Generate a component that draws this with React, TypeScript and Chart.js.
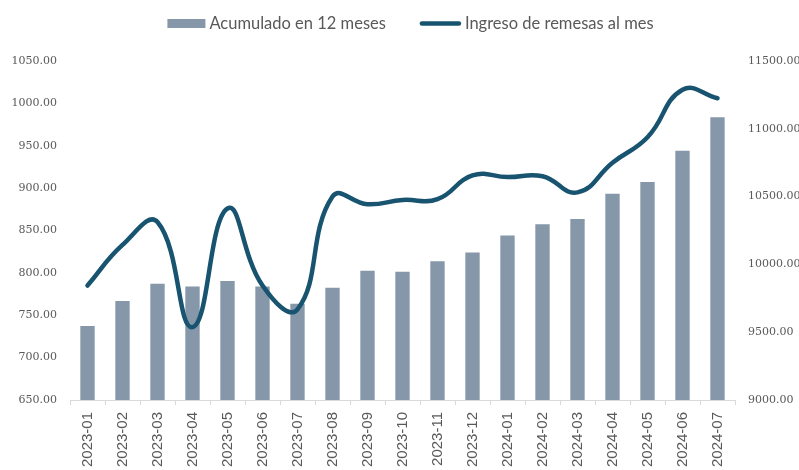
import React, { useEffect, useRef } from "react";
import { Chart, registerables } from "chart.js";

Chart.register(...registerables);

const categories = [
  "2023-01", "2023-02", "2023-03", "2023-04", "2023-05", "2023-06", "2023-07",
  "2023-08", "2023-09", "2023-10", "2023-11", "2023-12", "2024-01", "2024-02",
  "2024-03", "2024-04", "2024-05", "2024-06", "2024-07",
];

const acumulado12 = [
  9546, 9731, 9857, 9837, 9877, 9837, 9709, 9827, 9953, 9945, 10024, 10088,
  10213, 10297, 10334, 10521, 10608, 10839, 11085,
];

const ingresoMensual = [
  785, 833, 860, 736, 876, 785, 757, 890, 881, 886, 887, 915, 913, 914, 895,
  930, 960, 1016, 1006,
];

const barLabel = "Acumulado en 12 meses";
const lineLabel = "Ingreso de remesas al mes";

const BAR_COLOR = "#8597A9";
const LINE_COLOR = "#18546F";
const TEXT_COLOR = "#595959";
const AXIS_COLOR = "#D9D9D9";

const legendPlugin = {
  id: "customLegend",
  afterDraw(chart: any) {
    const ctx = chart.ctx;
    ctx.save();
    ctx.font = "16.5px Lato";
    ctx.textBaseline = "middle";
    ctx.fillStyle = TEXT_COLOR;
    const w1 = ctx.measureText(barLabel).width;
    const w2 = ctx.measureText(lineLabel).width;
    const box = 38;
    const lineW = 41;
    const gap = 4;
    const between = 34;
    const total = box + gap + w1 + between + lineW + gap + w2;
    const cx = 410.5;
    let x = cx - total / 2;
    const cy = 23.5;
    ctx.fillStyle = BAR_COLOR;
    ctx.fillRect(x, cy - 4.5, box, 9);
    x += box + gap;
    ctx.fillStyle = TEXT_COLOR;
    ctx.textAlign = "left";
    ctx.fillText(barLabel, x, cy);
    x += w1 + between;
    ctx.strokeStyle = LINE_COLOR;
    ctx.lineWidth = 4.5;
    ctx.lineCap = "round";
    ctx.beginPath();
    ctx.moveTo(x + 2, cy);
    ctx.lineTo(x + lineW - 2, cy);
    ctx.stroke();
    x += lineW + gap;
    ctx.fillStyle = TEXT_COLOR;
    ctx.fillText(lineLabel, x, cy);
    ctx.restore();
  },
};

export default function App() {
  const ref = useRef<HTMLCanvasElement | null>(null);
  useEffect(() => {
    if (!ref.current) return;
    const chart = new Chart(ref.current, {
      data: {
        labels: categories,
        datasets: [
          {
            type: "line",
            label: lineLabel,
            data: ingresoMensual,
            yAxisID: "yLeft",
            borderColor: LINE_COLOR,
            backgroundColor: LINE_COLOR,
            borderWidth: 4.5,
            pointRadius: 0,
            tension: 0.45,
            borderCapStyle: "round",
            order: 0,
          },
          {
            type: "bar",
            label: barLabel,
            data: acumulado12,
            yAxisID: "yRight",
            backgroundColor: BAR_COLOR,
            barPercentage: 0.41,
            categoryPercentage: 1,
            order: 1,
          },
        ],
      } as any,
      options: {
        responsive: false,
        animation: false,
        maintainAspectRatio: false,
        layout: { padding: { top: 61, bottom: 0, left: 0, right: 0 } },
        plugins: { legend: { display: false }, tooltip: { enabled: false } },
        scales: {
          x: {
            offset: true,
            grid: {
              display: true,
              drawOnChartArea: false,
              drawTicks: true,
              tickLength: 5,
              color: AXIS_COLOR,
              offset: true,
            },
            border: { display: true, color: AXIS_COLOR, width: 1 },
            ticks: {
              autoSkip: false,
              maxRotation: 90,
              minRotation: 90,
              padding: 7,
              color: TEXT_COLOR,
              font: { family: "Liberation Sans", size: 15 },
            },
            afterFit(scale: any) {
              scale.height = 70;
            },
          },
          yLeft: {
            position: "left",
            min: 650,
            max: 1050,
            grid: { display: false, drawTicks: false },
            border: { display: false },
            ticks: {
              stepSize: 50,
              padding: 13,
              color: TEXT_COLOR,
              font: { family: "DejaVu Serif", size: 11 },
              callback: (v: any) => Number(v).toFixed(2),
            },
            afterFit(scale: any) {
              scale.width = 70;
            },
          },
          yRight: {
            position: "right",
            min: 9000,
            max: 11500,
            grid: { display: false, drawTicks: false },
            border: { display: false },
            ticks: {
              stepSize: 500,
              padding: 13,
              color: TEXT_COLOR,
              font: { family: "DejaVu Serif", size: 11 },
              callback: (v: any) => Number(v).toFixed(2),
            },
            afterFit(scale: any) {
              scale.width = 64;
            },
          },
        },
      } as any,
      plugins: [legendPlugin],
    });
    return () => chart.destroy();
  }, []);
  return (
    <div style={{ position: "fixed", left: 0, top: 0, width: 799, height: 470, background: "#fff" }}>
      <canvas ref={ref} width={799} height={470} style={{ display: "block" }} />
    </div>
  );
}
